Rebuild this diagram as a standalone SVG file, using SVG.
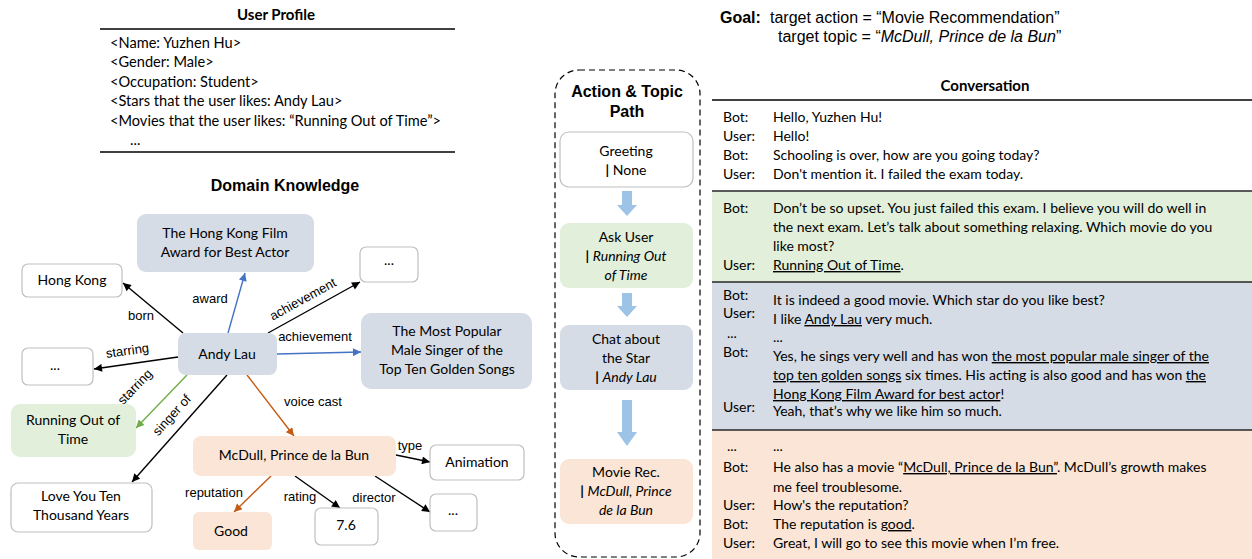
<svg xmlns="http://www.w3.org/2000/svg" width="1252" height="559" viewBox="0 0 1252 559">
<style>
.c{font-family:Lato,"Open Sans",sans-serif;font-size:14px;fill:#000}
.cp{font-family:Lato,"Open Sans",sans-serif;font-size:14.6px;fill:#000}
.cm{font-family:Lato,"Open Sans",sans-serif;font-size:14px;fill:#000;text-anchor:middle}
.arc{font-family:"Liberation Sans",Arial,sans-serif;font-size:13px;fill:#000;text-anchor:middle}
.h{font-family:"Liberation Sans",Arial,sans-serif;font-size:16px;font-weight:bold;fill:#000;text-anchor:middle}
.hc{font-family:Lato,"Open Sans",sans-serif;font-size:15px;font-weight:bold;fill:#000;text-anchor:middle}
.g{font-family:"Liberation Sans",Arial,sans-serif;font-size:16px;fill:#000}
.it{font-style:italic}
.u{text-decoration:underline}
.nw{fill:#fff;stroke:#bfbfbf;stroke-width:1.2}
.nb{fill:#d6dce5}
.ng{fill:#e2efda}
.no{fill:#fbe5d6}
.ek{stroke:#000;stroke-width:1.4;fill:none}
.eb{stroke:#4472c4;stroke-width:1.4;fill:none}
.eg{stroke:#70ad47;stroke-width:1.4;fill:none}
.eo{stroke:#c55a11;stroke-width:1.4;fill:none}
.pa{fill:#9dc3e6}
.rule{stroke:#000;stroke-width:1.5}
.div{stroke:#262626;stroke-width:1.5}
</style>
<defs>
<marker id="mk" viewBox="0 0 10 10" refX="10" refY="5" markerWidth="9" markerHeight="8" orient="auto" markerUnits="userSpaceOnUse"><path d="M0,0 L10,5 L0,10 z" fill="#000"/></marker>
<marker id="mb" viewBox="0 0 10 10" refX="10" refY="5" markerWidth="9" markerHeight="8" orient="auto" markerUnits="userSpaceOnUse"><path d="M0,0 L10,5 L0,10 z" fill="#4472c4"/></marker>
<marker id="mg" viewBox="0 0 10 10" refX="10" refY="5" markerWidth="9" markerHeight="8" orient="auto" markerUnits="userSpaceOnUse"><path d="M0,0 L10,5 L0,10 z" fill="#70ad47"/></marker>
<marker id="mo" viewBox="0 0 10 10" refX="10" refY="5" markerWidth="9" markerHeight="8" orient="auto" markerUnits="userSpaceOnUse"><path d="M0,0 L10,5 L0,10 z" fill="#c55a11"/></marker>
</defs>

<!-- User Profile -->
<g id="user-profile">
<text class="hc" x="276" y="20">User Profile</text>
<line class="rule" x1="100" y1="29" x2="455" y2="29"/>
<text class="cp" x="110" y="48">&lt;Name:  Yuzhen Hu&gt;</text>
<text class="cp" x="110" y="67">&lt;Gender: Male&gt;</text>
<text class="cp" x="110" y="87">&lt;Occupation: Student&gt;</text>
<text class="cp" x="110" y="106">&lt;Stars that the user likes: Andy Lau&gt;</text>
<text class="cp" x="110" y="126">&lt;Movies that the user likes:  “Running Out of Time”&gt;</text>
<text class="cp" x="130" y="145">...</text>
<line class="rule" x1="100" y1="152" x2="455" y2="152"/>
</g>

<text class="h" x="285" y="191">Domain Knowledge</text>

<!-- connectors -->
<g id="connectors">
<line class="ek" x1="183" y1="333" x2="123" y2="283" marker-end="url(#mk)"/>
<line class="eb" x1="228" y1="333" x2="245" y2="273" marker-end="url(#mb)"/>
<line class="ek" x1="268" y1="333" x2="360" y2="282" marker-end="url(#mk)"/>
<line class="eb" x1="277" y1="354" x2="361" y2="352" marker-end="url(#mb)"/>
<line class="ek" x1="178" y1="357" x2="94" y2="369" marker-end="url(#mk)"/>
<line class="eg" x1="187" y1="375" x2="136" y2="428" marker-end="url(#mg)"/>
<line class="ek" x1="227" y1="375" x2="132" y2="482" marker-end="url(#mk)"/>
<line class="eo" x1="247" y1="375" x2="294" y2="436" marker-end="url(#mo)"/>
<line class="ek" x1="396" y1="455" x2="430" y2="462" marker-end="url(#mk)"/>
<line class="eo" x1="271" y1="476" x2="234" y2="512" marker-end="url(#mo)"/>
<line class="ek" x1="295" y1="476" x2="340" y2="508" marker-end="url(#mk)"/>
<line class="ek" x1="375" y1="476" x2="430" y2="512" marker-end="url(#mk)"/>
<text class="arc" x="141" y="320">born</text>
<text class="arc" x="210" y="303">award</text>
<text class="arc" transform="translate(305,303) rotate(-29)">achievement</text>
<text class="arc" x="315" y="341">achievement</text>
<text class="arc" transform="translate(128,355) rotate(-8)">starring</text>
<text class="arc" transform="translate(138,390) rotate(-46)">starring</text>
<text class="arc" transform="translate(175,418) rotate(-48)">singer of</text>
<text class="arc" x="313" y="406">voice cast</text>
<text class="arc" x="410" y="450">type</text>
<text class="arc" x="214" y="497">reputation</text>
<text class="arc" x="300" y="501">rating</text>
<text class="arc" x="374" y="502">director</text>
</g>

<!-- KG nodes -->
<g id="n-hkfa"><rect class="nb" x="137" y="214" width="177" height="58" rx="9"/><text class="cm" x="225" y="238">The Hong Kong Film</text><text class="cm" x="225" y="257">Award for Best Actor</text></g>
<g id="n-dots1"><rect class="nw" x="360" y="247" width="58" height="35" rx="6"/><text class="cm" x="389" y="265">...</text></g>
<g id="n-hk"><rect class="nw" x="22" y="264" width="100" height="33" rx="6"/><text class="cm" x="72" y="285">Hong Kong</text></g>
<g id="n-andy"><rect class="nb" x="178" y="333" width="99" height="42" rx="8"/><text class="cm" x="227" y="359">Andy Lau</text></g>
<g id="n-dots2"><rect class="nw" x="22" y="348" width="71" height="37" rx="6"/><text class="cm" x="55" y="370">...</text></g>
<g id="n-popular"><rect class="nb" x="361" y="313" width="171" height="76" rx="10"/><text class="cm" x="447" y="336">The Most Popular</text><text class="cm" x="447" y="355">Male Singer of the</text><text class="cm" x="447" y="374">Top Ten  Golden Songs</text></g>
<g id="n-running"><rect class="ng" x="11" y="404" width="125" height="53" rx="9"/><text class="cm" x="73" y="425">Running Out of</text><text class="cm" x="73" y="444">Time</text></g>
<g id="n-mcdull"><rect class="no" x="193" y="436" width="203" height="40" rx="8"/><text class="cm" x="294" y="460">McDull, Prince de la Bun</text></g>
<g id="n-animation"><rect class="nw" x="430" y="445" width="94" height="35" rx="6"/><text class="cm" x="477" y="467">Animation</text></g>
<g id="n-loveyou"><rect class="nw" x="11" y="483" width="141" height="49" rx="7"/><text class="cm" x="81" y="501">Love You Ten</text><text class="cm" x="81" y="520">Thousand Years</text></g>
<g id="n-good"><rect class="no" x="193" y="512" width="79" height="38" rx="6"/><text class="cm" x="231" y="536">Good</text></g>
<g id="n-rating"><rect class="nw" x="315" y="508" width="63" height="37" rx="6"/><text class="cm" x="346" y="530">7.6</text></g>
<g id="n-dots3"><rect class="nw" x="430" y="494" width="47" height="37" rx="6"/><text class="cm" x="453" y="515">...</text></g>

<!-- Action & Topic Path -->
<g id="path-panel">
<rect x="555" y="70" width="145" height="487" rx="24" fill="none" stroke="#000" stroke-width="1.2" stroke-dasharray="6,4"/>
<text class="h" x="627" y="97">Action &amp; Topic</text>
<text class="h" x="627" y="117">Path</text>
</g>
<g id="p-greeting"><rect class="nw" x="560" y="132" width="133" height="55" rx="9"/><text class="cm" x="626" y="156">Greeting</text><text class="cm" x="626" y="175"><tspan font-weight="bold">|</tspan> None</text></g>
<g id="p-askuser"><rect class="ng" x="560" y="223" width="133" height="65" rx="9"/><text class="cm" x="626" y="242">Ask User</text><text class="cm" x="626" y="261"><tspan font-weight="bold">|</tspan> <tspan class="it">Running Out</tspan></text><text class="cm it" x="626" y="280">of Time</text></g>
<g id="p-chat"><rect class="nb" x="560" y="325" width="133" height="65" rx="9"/><text class="cm" x="626" y="344">Chat about</text><text class="cm" x="626" y="363">the Star</text><text class="cm" x="626" y="382"><tspan font-weight="bold">|</tspan> <tspan class="it">Andy Lau</tspan></text></g>
<g id="p-movierec"><rect class="no" x="560" y="459" width="133" height="65" rx="9"/><text class="cm" x="626" y="477">Movie Rec.</text><text class="cm" x="626" y="496"><tspan font-weight="bold">|</tspan> <tspan class="it">McDull, Prince</tspan></text><text class="cm it" x="626" y="515">de la Bun</text></g>
<g id="path-arrows">
<path class="pa" d="M622,191 H632 V205 H637 L627,216 L617,205 H622 Z"/>
<path class="pa" d="M622,293 H632 V306 H637 L627,317 L617,306 H622 Z"/>
<path class="pa" d="M622,400 H632 V432 H637 L627,446 L617,432 H622 Z"/>
</g>

<!-- Goal -->
<g id="goal">
<text class="g" x="720" y="23"><tspan font-weight="bold">Goal:</tspan></text>
<text class="g" x="770" y="23">target action = “Movie Recommendation”</text>
<text class="g" x="778" y="42">target topic  = “<tspan class="it">McDull, Prince de la Bun</tspan>”</text>
</g>

<!-- Conversation -->
<g id="conversation">
<rect class="ng" x="712" y="191" width="540" height="91"/>
<rect class="nb" x="712" y="282" width="540" height="148"/>
<rect class="no" x="712" y="430" width="540" height="129"/>
<text class="hc" x="985" y="91">Conversation</text>
<line class="rule" x1="712" y1="100" x2="1252" y2="100"/>
<line class="div" x1="712" y1="191" x2="1252" y2="191"/>
<line class="div" x1="712" y1="282" x2="1252" y2="282"/>
<line class="div" x1="712" y1="430" x2="1252" y2="430"/>

<text class="c" x="723" y="122">Bot:</text><text class="c" x="773" y="122">Hello, Yuzhen Hu!</text>
<text class="c" x="723" y="141">User:</text><text class="c" x="773" y="141">Hello!</text>
<text class="c" x="723" y="160">Bot:</text><text class="c" x="773" y="160">Schooling is over, how are you going today?</text>
<text class="c" x="723" y="179">User:</text><text class="c" x="773" y="179">Don't mention it. I failed the exam today.</text>

<text class="c" x="723" y="213">Bot:</text><text class="c" x="773" y="213">Don’t be so upset.  You just failed this exam. I believe you will do well in</text>
<text class="c" x="773" y="232">the next  exam. Let’s talk about something relaxing. Which movie do you</text>
<text class="c" x="773" y="251">like most?</text>
<text class="c" x="723" y="270">User:</text><text class="c" x="773" y="270"><tspan class="u">Running Out of Time</tspan>.</text>

<text class="c" x="723" y="300">Bot:</text><text class="c" x="773" y="305">It is indeed a good movie. Which star do you like best?</text>
<text class="c" x="723" y="318">User:</text><text class="c" x="773" y="324">I like <tspan class="u">Andy Lau</tspan> very much.</text>
<text class="c" x="727" y="338">...</text><text class="c" x="773" y="342">...</text>
<text class="c" x="723" y="357">Bot:</text><text class="c" x="773" y="361">Yes,  he sings very well and has won <tspan class="u">the most popular male singer of the</tspan></text>
<text class="c" x="773" y="380"><tspan class="u">top ten golden songs</tspan> six times. His acting is also good and has won <tspan class="u">the</tspan></text>
<text class="c" x="773" y="399"><tspan class="u">Hong Kong Film Award for best actor</tspan>!</text>
<text class="c" x="723" y="412">User:</text><text class="c" x="773" y="416">Yeah,  that’s why we like him so much.</text>

<text class="c" x="727" y="451">...</text><text class="c" x="773" y="451">...</text>
<text class="c" x="723" y="472">Bot:</text><text class="c" x="773" y="472">He also has a movie “<tspan class="u">McDull, Prince de la Bun”</tspan>. McDull’s growth makes</text>
<text class="c" x="773" y="492">me feel troublesome.</text>
<text class="c" x="723" y="510">User:</text><text class="c" x="773" y="510">How's the reputation?</text>
<text class="c" x="723" y="529">Bot:</text><text class="c" x="773" y="529">The reputation is <tspan class="u">good</tspan>.</text>
<text class="c" x="723" y="548">User:</text><text class="c" x="773" y="548">Great,  I will go to see this movie when I’m free.</text>
</g>
</svg>
